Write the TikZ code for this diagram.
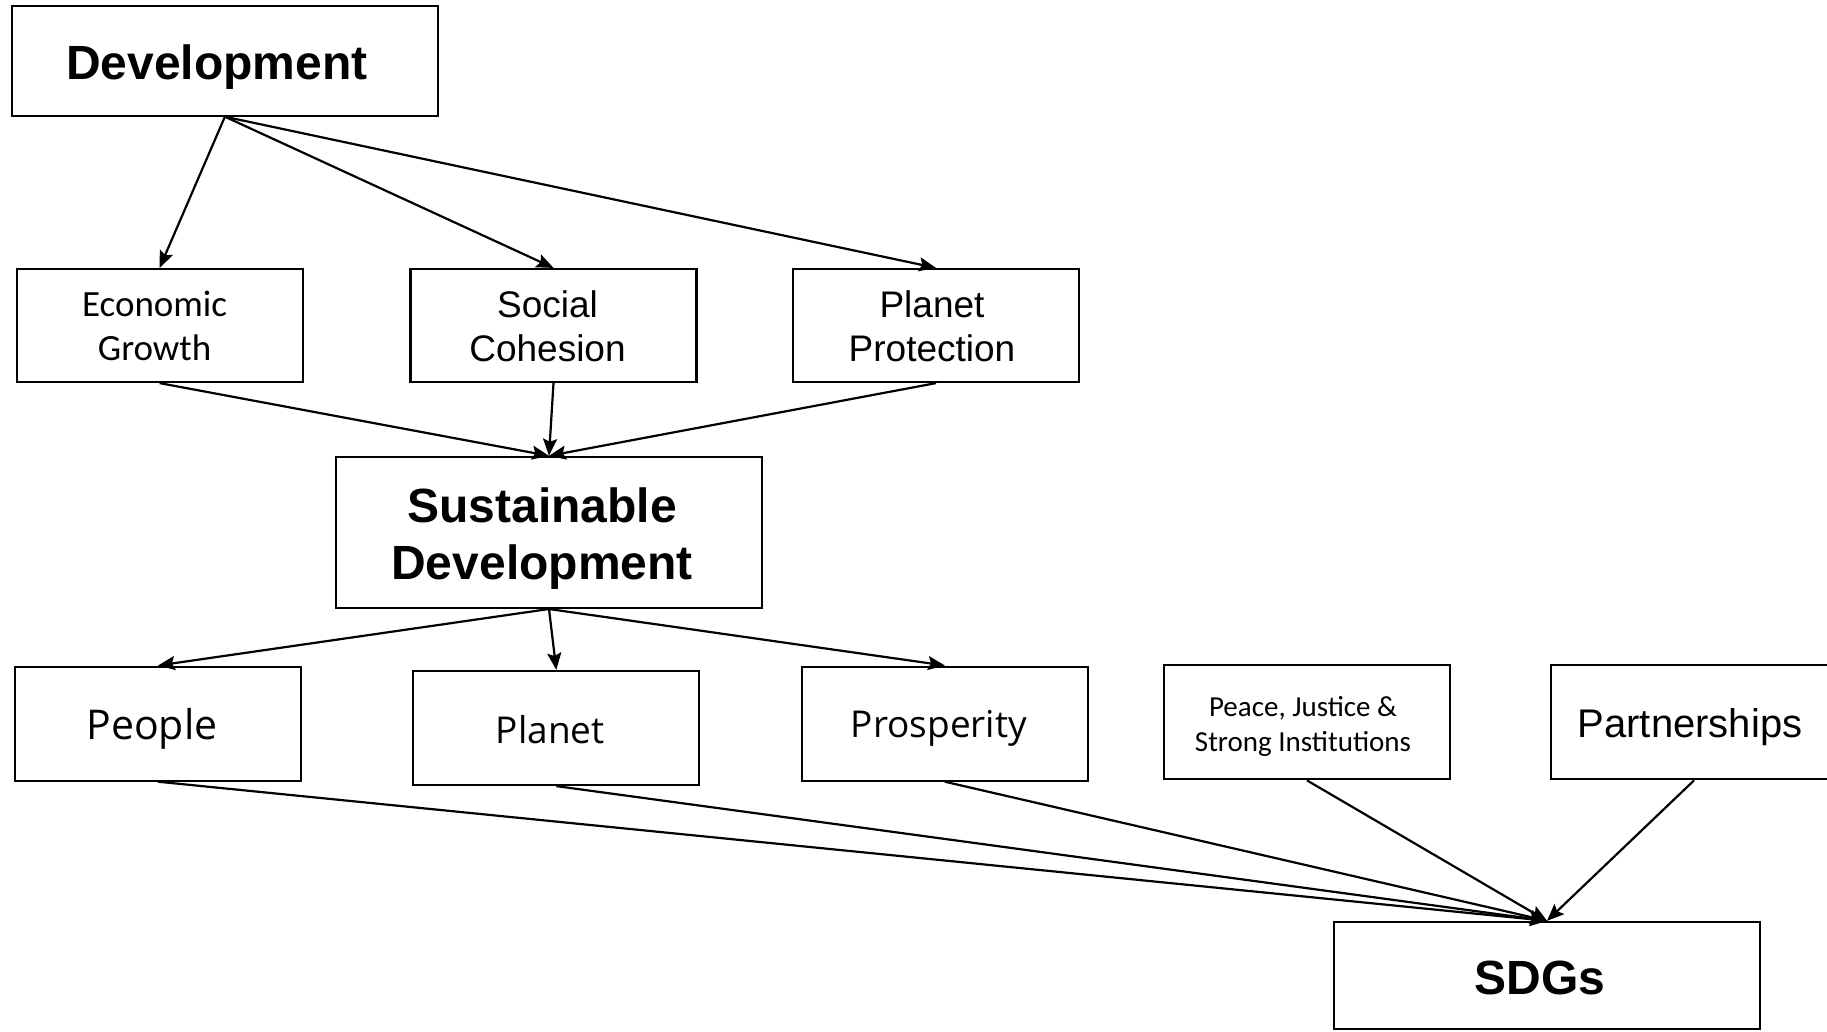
\documentclass[tikz,border=0pt]{standalone}
\usepackage{fontspec}
\setmainfont{Liberation Sans}
\newfontfamily\carl{Carlito}
\newfontfamily\opens{Open Sans}
\usetikzlibrary{arrows.meta}
\begin{document}
\begin{tikzpicture}[x=1pt,y=-1pt,
  box/.style={draw, line width=2.2pt, rectangle, inner sep=0pt, minimum height=113pt, minimum width=286pt},
  bigbox/.style={box, minimum width=426pt},
  txt/.style={inner sep=0pt, align=center},
  conn/.style={line width=2.2pt, -{Stealth[length=17pt,width=14pt,inset=3pt]}},
  bigfont/.style={txt, font=\fontsize{48}{57}\selectfont\bfseries},
  midfont/.style={txt, font=\fontsize{37}{44}\selectfont},
  carlfont/.style={txt, font=\fontsize{37}{44}\selectfont\carl},
  osfont/.style={txt, font=\fontsize{37}{44}\selectfont\opens}]
\useasboundingbox (0,0) rectangle (1827,1031);
\fill[white] (0,0) rectangle (1827,1031);

% boxes
\node[bigbox, minimum height=110pt] (dev) at (224.9,60.6) {};
\node[box] (eg) at (159.6,325.5) {};
\node[box] (sc) at (553.5,325.5) {};
\node[box] (pp) at (936,325.5) {};
\node[bigbox, minimum height=151pt] (sd) at (549,532.4) {};
\node[box, minimum height=114pt] (people) at (158,723.6) {};
\node[box, minimum height=114pt] (planet) at (556.3,728) {};
\node[box, minimum height=114pt] (prosp) at (944.9,723.6) {};
\node[box, minimum height=114pt] (peace) at (1307,722.3) {};
\node[box, minimum height=114pt] (partner) at (1694,722.3) {};
\node[bigbox, minimum height=107pt] (sdgs) at (1547,975.4) {};

% texts
\node[bigfont] (devt) at ([shift={(-8,6)}]dev.center) {Development};
\node[carlfont] (egt) at ([shift={(-5,0)}]eg.center) {Economic\\Growth};
\node[midfont] (sct) at ([shift={(-6,1)}]sc.center) {Social\\Cohesion};
\node[midfont] (ppt) at ([shift={(-4,1)}]pp.center) {Planet\\Protection};
\node[bigfont] (sdt) at ([shift={(-7,6)}]sd.center) {Sustainable\\Development};
\node[txt, font=\fontsize{41}{48}\selectfont\opens] (peoplet) at ([shift={(-6,5)}]people.center) {People};
\node[osfont] (planett) at ([shift={(-6,2)}]planet.center) {Planet};
\node[osfont] (prospt) at ([shift={(-6,5)}]prosp.center) {Prosperity};
\node[txt, font=\fontsize{29}{35}\selectfont\carl] (peacet) at ([shift={(-4,4)}]peace.center) {Peace, Justice \&\\Strong Institutions};
\node[txt, font=\fontsize{40}{48}\selectfont] (partnert) at ([shift={(-4,5)}]partner.center) {Partnerships};
\node[bigfont] (sdgst) at ([shift={(-7,3)}]sdgs.center) {SDGs};

% connectors
\draw[conn] (dev.south) -- (eg.north);
\draw[conn] (dev.south) -- (sc.north);
\draw[conn] (dev.south) -- (pp.north);

\draw[conn] (eg.south) -- (sd.north);
\draw[conn] (sc.south) -- (sd.north);
\draw[conn] (pp.south) -- (sd.north);

\draw[conn] (sd.south) -- (people.north);
\draw[conn] (sd.south) -- (planet.north);
\draw[conn] (sd.south) -- (prosp.north);

\draw[conn] (people.south) -- (sdgs.north);
\draw[conn] (planet.south) -- (sdgs.north);
\draw[conn] (prosp.south) -- (sdgs.north);
\draw[conn] (peace.south) -- (sdgs.north);
\draw[conn] (partner.south) -- (sdgs.north);
\end{tikzpicture}
\end{document}
